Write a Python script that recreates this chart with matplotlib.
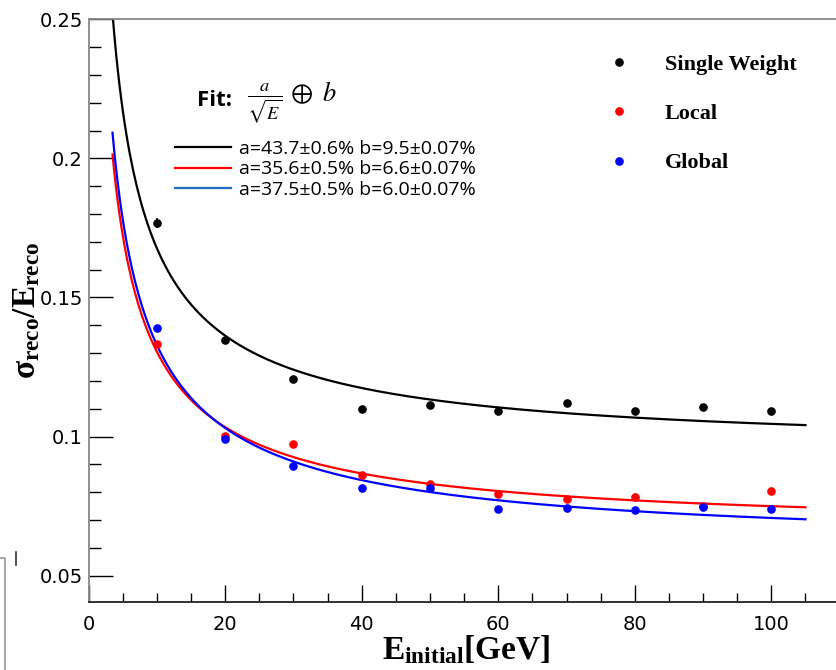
import numpy as np
import matplotlib
matplotlib.use("Agg")
import matplotlib.pyplot as plt
from matplotlib.lines import Line2D

# mathtext en serif gras pour les titres d'axes (style ROOT)
plt.rcParams['mathtext.fontset'] = 'custom'
plt.rcParams['mathtext.rm'] = 'Liberation Serif:bold'
plt.rcParams['mathtext.it'] = 'Liberation Serif:bold'
plt.rcParams['mathtext.bf'] = 'Liberation Serif:bold'

# données
energie = [10, 20, 30, 40, 50, 60, 70, 80, 90, 100]
single_weight = [0.1768, 0.1349, 0.1206, 0.1101, 0.1113, 0.1091, 0.1121, 0.1091, 0.1107, 0.1092]
err_single = [0.0018, 0.0010, 0.0008, 0.0008, 0.0008, 0.0008, 0.0008, 0.0008, 0.0010, 0.0008]
local = [0.1332, 0.1003, 0.0972, 0.0862, 0.0831, 0.0792, 0.0777, 0.0782, 0.0750, 0.0803]
err_local = [0.0010, 0.0008, 0.0006, 0.0006, 0.0006, 0.0006, 0.0006, 0.0006, 0.0006, 0.0008]
global_ = [0.1392, 0.0993, 0.0895, 0.0817, 0.0816, 0.0741, 0.0745, 0.0735, 0.0746, 0.0738]
err_global = [0.0010, 0.0008, 0.0008, 0.0006, 0.0006, 0.0006, 0.0006, 0.0006, 0.0006, 0.0006]

# paramètres des ajustements (en %)
fit_a = [43.7, 35.6, 37.5]
fit_b = [9.5, 6.6, 6.0]
fit_labels = ["a=43.7\u00b10.6% b=9.5\u00b10.07%",
              "a=35.6\u00b10.5% b=6.6\u00b10.07%",
              "a=37.5\u00b10.5% b=6.0\u00b10.07%"]
noms = ["Single Weight", "Local", "Global"]
couleurs = ["black", "red", "blue"]

W, H = 837, 670
def fig_xy(x, y):
    # pixels -> fraction de figure
    return (x / W, 1 - y / H)

fig = plt.figure(figsize=(W / 100, H / 100), dpi=100)
ax = fig.add_axes([88.6 / W, 1 - 602 / H, 751 / W, (602 - 19.3) / H])

# courbes d'ajustement a/sqrt(E) (+) b
E = np.linspace(3.5, 105, 400)
fit_lines = []
for a, b, c, lab in zip(fit_a, fit_b, couleurs, fit_labels):
    y = np.sqrt((a / 100) ** 2 / E + (b / 100) ** 2)
    l, = ax.plot(E, y, color=c, lw=1.6, label=lab)
    fit_lines.append(l)

pts = []
for ys, es, c in zip([single_weight, local, global_],
                     [err_single, err_local, err_global], couleurs):
    p = ax.errorbar(energie, ys, yerr=es, fmt='o', color=c, ms=5.2,
                    elinewidth=1.2, capsize=0)
    pts.append(p[0])  # seulement le marqueur pour la légende

ax.set_xlim(0, 110)
ax.set_ylim(0.25 - (602 - 19.3) / 2782, 0.25)
ax.set_xticks([0, 20, 40, 60, 80, 100])
ax.set_xticks(np.arange(0, 111, 5), minor=True)
ax.set_yticks([0.05, 0.1, 0.15, 0.2, 0.25])
ax.set_yticklabels(["0.05", "0.1", "0.15", "0.2", "0.25"])
ax.set_yticks(np.arange(0.05, 0.2501, 0.01), minor=True)
ax.tick_params(axis='x', which='major', direction='in', length=12, width=1, pad=9, labelsize=14)
ax.tick_params(axis='x', which='minor', direction='in', length=6.5, width=1)
ax.tick_params(axis='y', which='major', direction='in', length=17, width=1, pad=4, labelsize=14)
ax.tick_params(axis='y', which='minor', direction='in', length=8.6, width=1)
for s in ['left', 'top']:
    ax.spines[s].set_color('#888888')
ax.spines['bottom'].set_color('#222222')
for s in ax.spines.values():
    s.set_linewidth(1.3)
ax.spines['right'].set_visible(False)

ax.set_xlabel(r'$E_{initial}[GeV]$', fontsize=24)
ax.xaxis.set_label_coords((466 - 88.6) / 751, -0.054)
ax.set_ylabel(r'$\sigma_{reco}/E_{reco}$', fontsize=24)
ax.yaxis.set_label_coords(-0.062, 0.5)

# légende des ajustements
fig.text(*fig_xy(197, 101), "Fit:", fontsize=16, fontweight='bold',
         family='Open Sans', va='center', ha='left')
fig.text(*fig_xy(247, 103), r'$\frac{a}{\sqrt{E}}\,\oplus\ b$', fontsize=19,
         va='center', ha='left', math_fontfamily='stix')
leg1 = ax.legend(handles=fit_lines, labels=fit_labels, loc='upper left',
                 bbox_to_anchor=fig_xy(175, 140), bbox_transform=fig.transFigure,
                 frameon=False, borderpad=0, borderaxespad=0, handlelength=2.9,
                 handletextpad=0.4, labelspacing=0.12,
                 prop={'family': 'Open Sans', 'size': 14})
leg1.legend_handles[2].set_color('#1f6fc0')
ax.add_artist(leg1)

# légende des points
leg2 = ax.legend(handles=pts, labels=noms, loc='upper left',
                 bbox_to_anchor=fig_xy(608, 54), bbox_transform=fig.transFigure,
                 frameon=False, borderpad=0, borderaxespad=0, handlelength=1.0,
                 handletextpad=1.55, labelspacing=1.3,
                 prop={'family': 'Liberation Serif', 'weight': 'bold', 'size': 16})

# restes de la capture en bas à gauche
fig.add_artist(Line2D([0, 5 / W, 5 / W], [1 - 558 / H, 1 - 558 / H, 0],
                      color='#999999', lw=1.2, transform=fig.transFigure))
fig.add_artist(Line2D([16 / W, 16 / W], [1 - 552 / H, 1 - 565 / H],
                      color='#333333', lw=1.2, transform=fig.transFigure))

fig.savefig("out.png", dpi=100)
